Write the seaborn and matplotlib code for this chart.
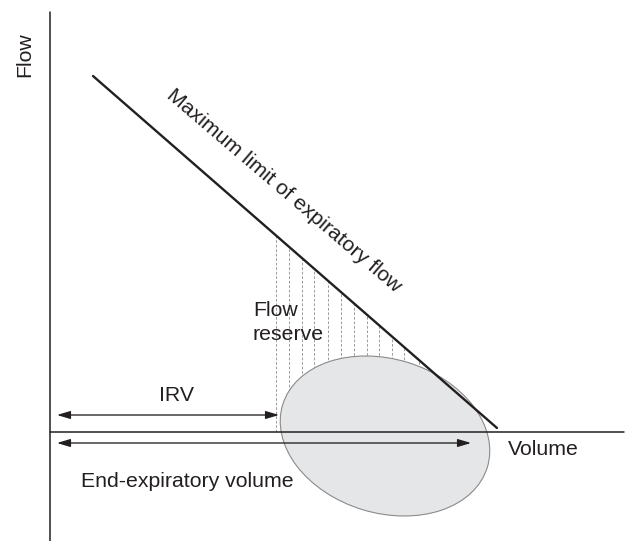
"""
Flow reserve diagram: expiratory flow limit vs tidal loop
"""

import matplotlib.pyplot as plt
import numpy as np
import pandas as pd
import seaborn as sns
from matplotlib.patches import Ellipse

# diagram units (about 1 unit per pixel), origin where the two axes cross
limit_volume = [43, 447]
limit_flow = [356, 4]

reserve_volume = [226, 239, 252, 264, 278, 291, 304, 317, 329, 342, 354, 369]

loop_center = (335, -4)
loop_width = 214
loop_height = 154
loop_angle = -17

irv_flow = 17
irv_span = [7, 229]
eev_flow = -11
eev_span = [7, 421]

volume_axis = [0, 574]
flow_axis = [-109, 420]

INK = "#231f20"
FS = 15.3

sns.set_theme(style="white")
plt.rcParams["font.family"] = ["Liberation Sans", "DejaVu Sans"]

fig = plt.figure(figsize=(6.27, 5.41), dpi=100)
ax = fig.add_axes([0, 0, 1, 1])
ax.set_xlim(-50, 577)
ax.set_ylim(-109, 432)
ax.axis("off")

# max expiratory flow line
df = pd.DataFrame({"volume": limit_volume, "flow": limit_flow})
sns.lineplot(data=df, x="volume", y="flow", color=INK, lw=1.7, ax=ax, zorder=5)

# flow reserve hatching, from the limit line down to the volume axis
tops = np.interp(reserve_volume, limit_volume, limit_flow)
ax.vlines(reserve_volume, 0, tops, colors="#959595", linestyles=(0, (3, 2)),
          lw=0.65, zorder=1)

# tidal loop
loop = Ellipse(loop_center, loop_width, loop_height, angle=loop_angle,
               facecolor="#e5e6e8", edgecolor="#8a8a8a", lw=0.8, zorder=2)
ax.add_patch(loop)

# axes
ax.plot(volume_axis, [0, 0], color=INK, lw=1.1, zorder=4)
ax.plot([0, 0], flow_axis, color=INK, lw=1.1, zorder=4)

arrow = dict(arrowstyle="<|-|>,head_length=0.4,head_width=0.12", color=INK,
             lw=0.95, shrinkA=0, shrinkB=0, mutation_scale=20)
ax.annotate("", xy=(irv_span[1], irv_flow), xytext=(irv_span[0], irv_flow),
            arrowprops=arrow, zorder=6)
ax.annotate("", xy=(eev_span[1], eev_flow), xytext=(eev_span[0], eev_flow),
            arrowprops=arrow, zorder=6)

# labels
ax.text(-25.5, 377.5, "Flow", rotation=90, ha="center", va="center",
        fontsize=FS, color=INK)
ax.text(234, 241, "Maximum limit of expiratory flow", rotation=-40.5,
        rotation_mode="anchor", ha="center", va="center", fontsize=FS, color=INK)
ax.text(203, 92, "Flow\nreserve", ha="left", va="baseline", fontsize=FS,
        color=INK, linespacing=1.3)
ax.text(126.5, 31.3, "IRV", ha="center", va="baseline", fontsize=FS, color=INK)
ax.text(137.5, -55.3, "End-expiratory volume", ha="center", va="baseline",
        fontsize=FS, color=INK)
ax.text(458, -23, "Volume", ha="left", va="baseline", fontsize=FS, color=INK)

fig.savefig("out.png", dpi=100)
